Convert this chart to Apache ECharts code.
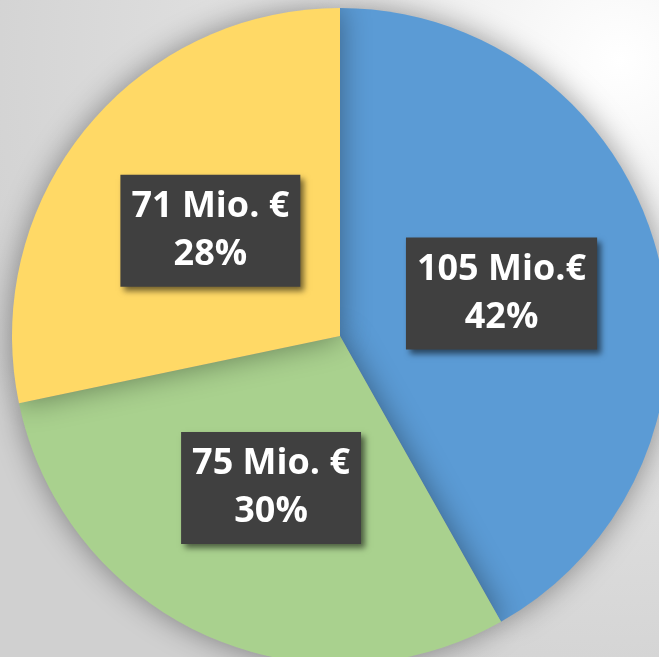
<!DOCTYPE html>
<html>
<head>
  <meta charset="utf-8">
  <title>Pie</title>
  <script src="https://cdn.jsdelivr.net/npm/echarts@6/dist/echarts.min.js"></script>
  <style>
    html, body {
      margin: 0;
      padding: 0;
    }
    body {
      background: radial-gradient(circle at 620px 60px, #ffffff 0px, #f2f2f2 160px, #e0e0e0 380px, #d0d0d0 700px);
    }
  </style>
</head>
<body>
  <div id="main" style="width: 659px; height: 657px;"></div>
  <script>
    var names = ['Blau', 'Grün', 'Gelb'];
    var values = [105, 75, 71];
    var valueLabels = ['105 Mio.€', '75 Mio. €', '71 Mio. €'];
    var colors = ['#5B9BD5', '#A9D18E', '#FFD966'];

    var chart = echarts.init(document.getElementById('main'));

    var data = [];
    for (var i = 0; i < values.length; i++) {
      data.push({
        name: names[i],
        value: values[i],
        itemStyle: { color: colors[i] }
      });
    }

    chart.setOption({
      animation: false,
      series: [{
        type: 'pie',
        center: [340, 336],
        radius: [0, 328],
        startAngle: 90,
        clockwise: true,
        silent: true,
        itemStyle: {
          borderWidth: 0,
          shadowBlur: 30,
          shadowColor: 'rgba(0,0,0,0.4)'
        },
        label: {
          show: true,
          position: 'inside',
          formatter: function (p) {
            return valueLabels[p.dataIndex] + '\n' + Math.round(p.percent) + '%';
          },
          color: '#ffffff',
          fontFamily: 'Open Sans',
          fontWeight: 'bold',
          fontSize: 36,
          lineHeight: 48,
          backgroundColor: '#404040',
          padding: [8, 11, 8, 11],
          shadowColor: 'rgba(0,0,0,0.55)',
          shadowBlur: 6,
          shadowOffsetX: 4,
          shadowOffsetY: 4
        },
        labelLine: { show: false },
        data: data
      }]
    });
  </script>
</body>
</html>
